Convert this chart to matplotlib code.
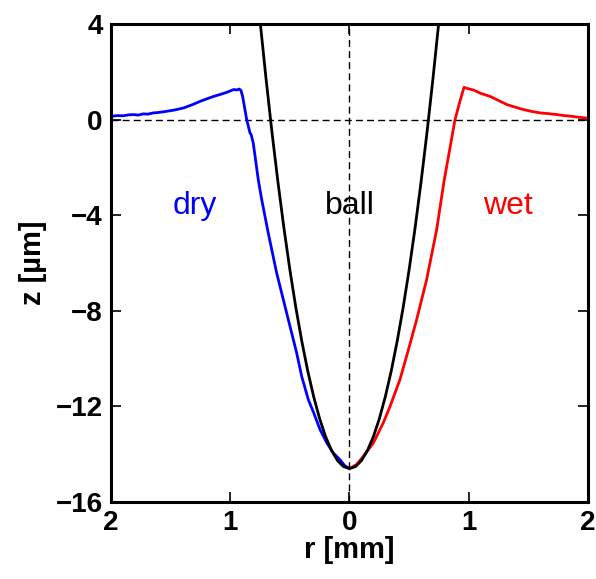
import matplotlib
matplotlib.use("Agg")
import matplotlib.pyplot as plt
import numpy as np

plt.rcParams['font.family'] = ['Liberation Sans', 'DejaVu Sans']

# ---- data ----
dry_r = [-1.99, -1.95, -1.90, -1.85, -1.81, -1.77, -1.73, -1.69, -1.645, -1.60, -1.53, -1.46,
         -1.39, -1.32, -1.25, -1.19, -1.14, -1.08, -1.03, -0.97, -0.945, -0.924, -0.91,
         -0.896, -0.862, -0.834, -0.825, -0.807, -0.765, -0.736, -0.681, -0.611, -0.527,
         -0.443, -0.401, -0.345, -0.30, -0.247, -0.19, -0.136, -0.08, -0.04, 0.0]
dry_z = [0.14, 0.17, 0.16, 0.20, 0.21, 0.19, 0.24, 0.23, 0.28, 0.30, 0.35, 0.41,
         0.49, 0.62, 0.77, 0.88, 0.97, 1.06, 1.14, 1.26, 1.24, 1.28, 1.22,
         0.97, 0.0, -0.56, -0.62, -0.98, -2.51, -3.35, -4.75, -6.41, -8.09,
         -9.76, -10.74, -11.72, -12.27, -12.97, -13.53, -13.95, -14.23, -14.48, -14.6]

wet_r = [0.0, 0.06, 0.116, 0.20, 0.283, 0.34, 0.423, 0.49, 0.563, 0.647,
         0.731, 0.792, 0.84, 0.885, 0.925, 0.96, 0.99, 1.04, 1.10, 1.18, 1.25, 1.32,
         1.39, 1.46, 1.53, 1.60, 1.67, 1.74, 1.80, 1.86, 1.92, 1.98]
wet_z = [-14.6, -14.43, -14.09, -13.53, -12.69, -12.0, -10.88, -9.7, -8.37, -6.69,
         -4.6, -2.6, -1.25, 0.0, 0.75, 1.35, 1.30, 1.24, 1.10, 0.97, 0.80, 0.63,
         0.52, 0.42, 0.34, 0.28, 0.25, 0.21, 0.17, 0.14, 0.10, 0.07]

ball_r = [-0.75, -0.70, -0.65, -0.60, -0.55, -0.50, -0.45, -0.40, -0.35, -0.30, -0.25, -0.20,
          -0.15, -0.10, -0.05, 0.0, 0.05, 0.10, 0.15, 0.20, 0.25, 0.30, 0.35, 0.40,
          0.45, 0.50, 0.55, 0.60, 0.65, 0.70, 0.75]
ball_z = [4.13, 1.72, -0.53, -2.61, -4.53, -6.28, -7.86, -9.27, -10.52, -11.60, -12.52, -13.27,
          -13.85, -14.27, -14.52, -14.6, -14.52, -14.27, -13.85, -13.27, -12.52, -11.60, -10.52, -9.27,
          -7.86, -6.28, -4.53, -2.61, -0.53, 1.72, 4.13]

x_ticks = [-2, -1, 0, 1, 2]
x_ticklabels = ['2', '1', '0', '1', '2']
y_ticks = [-16, -12, -8, -4, 0, 4]
y_ticklabels = ['\u221216', '\u221212', '\u22128', '\u22124', '0', '4']

labels = ['dry', 'ball', 'wet']
label_r = [-1.30, 0.0, 1.33]
label_colors = ['#0000ff', 'black', '#ff0000']

# ---- figure ----
fig = plt.figure(figsize=(5.96, 5.79), dpi=100)
ax = fig.add_axes([0.1862, 0.133, 0.8004, 0.8255])

ax.axhline(0, color='black', lw=1.0, ls=(0, (5, 3)), zorder=1)
ax.axvline(0, color='black', lw=1.0, ls=(0, (5, 3)), zorder=1)

ax.plot(dry_r, dry_z, color='#0000ff', lw=2.0, zorder=2)
ax.plot(wet_r, wet_z, color='#ff0000', lw=2.0, zorder=2)
ax.plot(ball_r, ball_z, color='black', lw=2.0, zorder=3)

for t, r, c in zip(labels, label_r, label_colors):
    ax.text(r, -3.6, t, color=c, fontsize=23, ha='center', va='center', zorder=4)

ax.set_xlim(-2, 2)
ax.set_ylim(-16, 4)
ax.set_xticks(x_ticks)
ax.set_xticklabels(x_ticklabels)
ax.set_yticks(y_ticks)
ax.set_yticklabels(y_ticklabels)

ax.tick_params(direction='in', top=True, right=True, length=7, width=1.2, pad=6,
               labelsize=20)
for lab in ax.get_xticklabels() + ax.get_yticklabels():
    lab.set_fontweight('bold')

for s in ax.spines.values():
    s.set_linewidth(2.2)

ax.set_xlabel('r [mm]', fontsize=21, fontweight='bold', labelpad=0)
ax.set_ylabel('z [\u00b5m]', fontsize=21, fontweight='bold', labelpad=6)

fig.savefig('out.png', dpi=100)
